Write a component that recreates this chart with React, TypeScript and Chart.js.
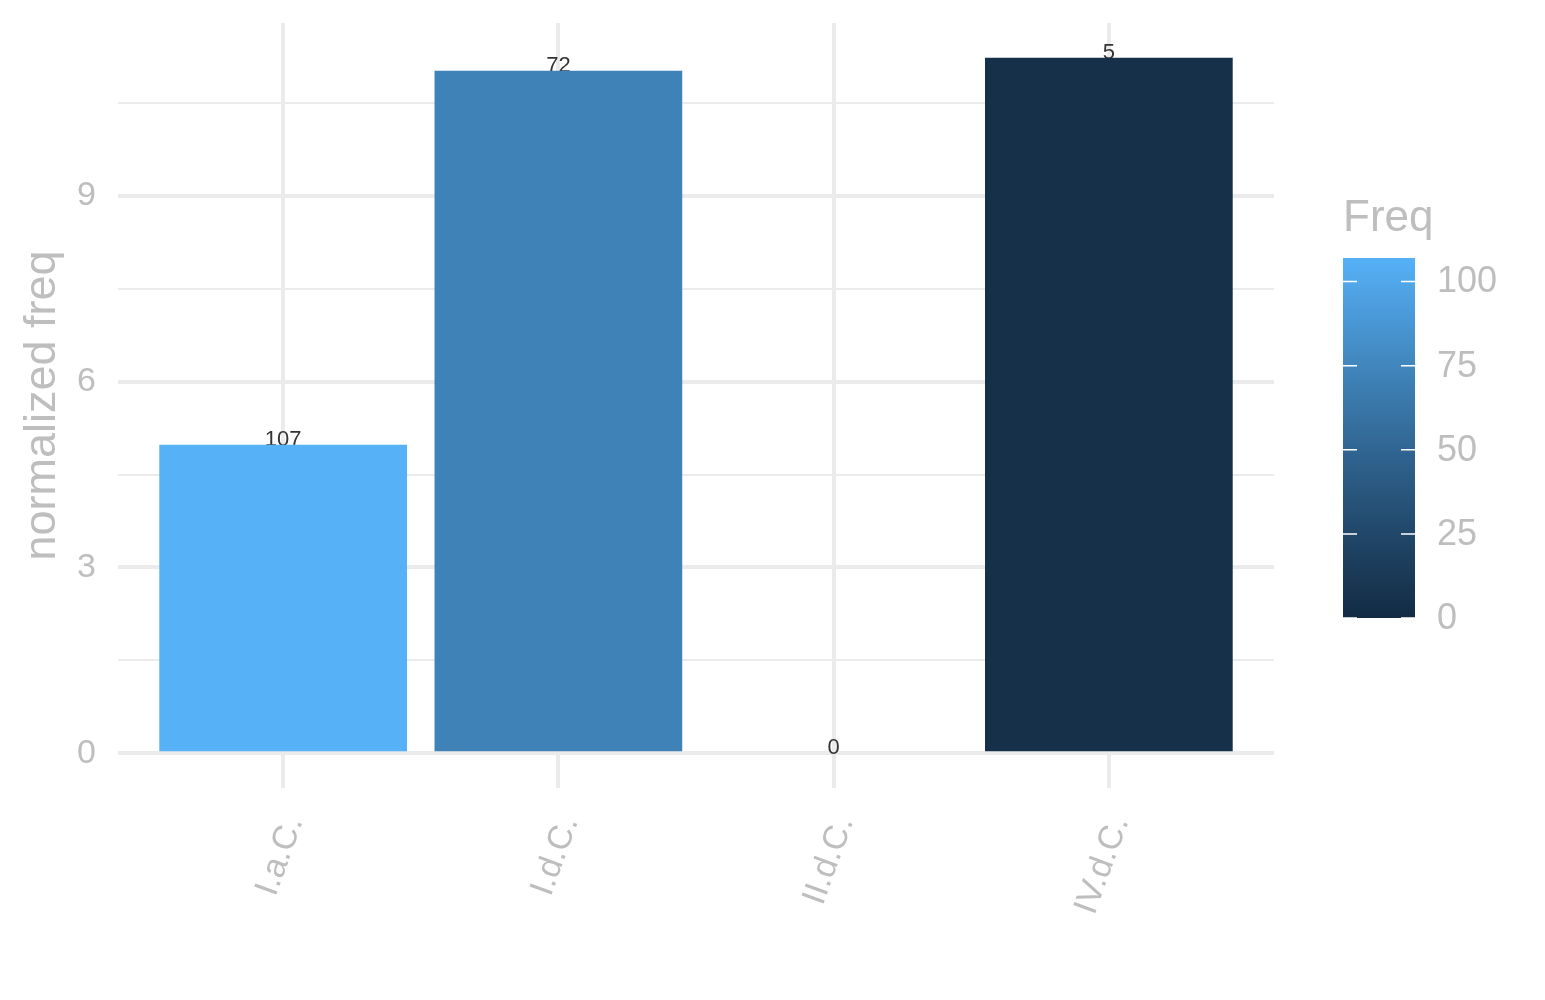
import { useEffect, useRef } from 'react';
import Chart from 'chart.js/auto';

// data
const categories = ['I.a.C.', 'I.d.C.', 'II.d.C.', 'IV.d.C.'];
const normalizedFreq = [4.98, 11.02, 0, 11.23];
const freq = [107, 72, 0, 5];

// axis ticks
const yMajorTicks = [0, 3, 6, 9];
const yMinorTicks = [1.5, 4.5, 7.5, 10.5];
const xTicks = [1, 2, 3, 4];
const legendTicks = [0, 25, 50, 75, 100];

// ggplot's default continuous fill scale
const LOW_COLOR = '#132B43';
const HIGH_COLOR = '#56B1F7';

const FONT = '"Liberation Sans", Arial, sans-serif';
const GREY_TEXT = '#BEBEBE';
const GRID = '#EBEBEB';

// --- colour helpers (Lab interpolation like scales::seq_gradient_pal) ---
const toLinear = (c: number) => {
  const v = c / 255;
  return v <= 0.04045 ? v / 12.92 : Math.pow((v + 0.055) / 1.055, 2.4);
};
const fromLinear = (c: number) => {
  const v = c <= 0.0031308 ? 12.92 * c : 1.055 * Math.pow(c, 1 / 2.4) - 0.055;
  return Math.round(Math.min(1, Math.max(0, v)) * 255);
};
const Xn = 0.95047, Yn = 1, Zn = 1.08883;
const EPS = 216 / 24389, KAPPA = 24389 / 27;

const hexToLab = (hex: string) => {
  const r = toLinear(parseInt(hex.slice(1, 3), 16));
  const g = toLinear(parseInt(hex.slice(3, 5), 16));
  const b = toLinear(parseInt(hex.slice(5, 7), 16));
  const X = 0.4124564 * r + 0.3575761 * g + 0.1804375 * b;
  const Y = 0.2126729 * r + 0.7151522 * g + 0.072175 * b;
  const Z = 0.0193339 * r + 0.119192 * g + 0.9503041 * b;
  const f = (t: number) => (t > EPS ? Math.cbrt(t) : (KAPPA * t + 16) / 116);
  const fx = f(X / Xn), fy = f(Y / Yn), fz = f(Z / Zn);
  return [116 * fy - 16, 500 * (fx - fy), 200 * (fy - fz)];
};

const labToRgb = (L: number, a: number, bb: number) => {
  const fy = (L + 16) / 116;
  const fx = fy + a / 500;
  const fz = fy - bb / 200;
  const finv = (t: number) => (t * t * t > EPS ? t * t * t : (116 * t - 16) / KAPPA);
  const X = Xn * finv(fx), Y = Yn * finv(fy), Z = Zn * finv(fz);
  const r = 3.2404542 * X - 1.5371385 * Y - 0.4985314 * Z;
  const g = -0.969266 * X + 1.8760108 * Y + 0.041556 * Z;
  const b = 0.0556434 * X - 0.2040259 * Y + 1.0572252 * Z;
  return `rgb(${fromLinear(r)}, ${fromLinear(g)}, ${fromLinear(b)})`;
};

const lowLab = hexToLab(LOW_COLOR);
const highLab = hexToLab(HIGH_COLOR);
const freqMin = Math.min(...freq);
const freqMax = Math.max(...freq);

const fillFor = (v: number) => {
  const t = (v - freqMin) / (freqMax - freqMin);
  return labToRgb(
    lowLab[0] + (highLab[0] - lowLab[0]) * t,
    lowLab[1] + (highLab[1] - lowLab[1]) * t,
    lowLab[2] + (highLab[2] - lowLab[2]) * t,
  );
};

// ggplot-like 5% expansion of the y range
const yMax = Math.max(...normalizedFreq);
const yPad = yMax * 0.05;

// value labels on top of the bars (drawn under the bars, like the reference)
const valueLabels = {
  id: 'valueLabels',
  beforeDatasetsDraw(chart: any) {
    const { ctx, scales } = chart;
    ctx.save();
    ctx.fillStyle = '#333333';
    ctx.font = `22px ${FONT}`;
    ctx.textAlign = 'center';
    ctx.textBaseline = 'alphabetic';
    categories.forEach((_, i) => {
      const x = scales.x.getPixelForValue(xTicks[i]);
      const y = scales.y.getPixelForValue(normalizedFreq[i]);
      ctx.fillText(String(freq[i]), x, y + 1);
    });
    ctx.restore();
  },
};

// colour bar legend on the right
const colorBar = {
  id: 'colorBar',
  afterDraw(chart: any) {
    const { ctx } = chart;
    const left = 1343;
    const top = 258;
    const width = 72;
    const height = 360;
    const bottom = top + height;

    ctx.save();
    ctx.fillStyle = GREY_TEXT;
    ctx.font = `44px ${FONT}`;
    ctx.textAlign = 'left';
    ctx.textBaseline = 'alphabetic';
    ctx.fillText('Freq', left, 231);

    const grad = ctx.createLinearGradient(0, bottom, 0, top);
    for (let k = 0; k <= 20; k++) {
      grad.addColorStop(k / 20, fillFor(freqMin + (k / 20) * (freqMax - freqMin)));
    }
    ctx.fillStyle = grad;
    ctx.fillRect(left, top, width, height);

    ctx.strokeStyle = '#FFFFFF';
    ctx.lineWidth = 1.5;
    ctx.font = `36px ${FONT}`;
    ctx.fillStyle = GREY_TEXT;
    ctx.textBaseline = 'middle';
    legendTicks.forEach((v) => {
      const y = bottom - ((v - freqMin) / (freqMax - freqMin)) * height;
      ctx.beginPath();
      ctx.moveTo(left, y);
      ctx.lineTo(left + 14, y);
      ctx.moveTo(left + width - 14, y);
      ctx.lineTo(left + width, y);
      ctx.stroke();
      ctx.fillText(String(v), left + width + 22, y + 1);
    });
    ctx.restore();
  },
};

const App = () => {
  const chartRef = useRef<HTMLCanvasElement>(null);
  const chartInstance = useRef<Chart | null>(null);

  useEffect(() => {
    if (!chartRef.current) return;
    if (chartInstance.current) chartInstance.current.destroy();

    chartInstance.current = new Chart(chartRef.current, {
      type: 'bar',
      data: {
        datasets: [
          {
            data: categories.map((_, i) => ({ x: xTicks[i], y: normalizedFreq[i] })),
            backgroundColor: freq.map(fillFor),
            borderWidth: 0,
            barPercentage: 0.9,
            categoryPercentage: 1,
          },
        ],
      },
      options: {
        animation: false,
        responsive: true,
        maintainAspectRatio: false,
        layout: { padding: { top: 23, right: 271, left: 0, bottom: 0 } },
        plugins: {
          legend: { display: false },
          tooltip: { enabled: false },
        },
        scales: {
          x: {
            type: 'linear',
            min: 0.4,
            max: 4.6,
            offset: false,
            afterBuildTicks: (scale: any) => {
              scale.ticks = xTicks.map((v) => ({ value: v }));
            },
            afterFit: (scale: any) => {
              scale.height = 212;
              scale.paddingLeft = 0;
              scale.paddingRight = 0;
            },
            ticks: {
              autoSkip: false,
              minRotation: 70,
              maxRotation: 70,
              padding: 23,
              labelOffset: 11,
              color: GREY_TEXT,
              font: { size: 34, family: FONT },
              callback: (value: any) => categories[Number(value) - 1] ?? '',
            },
            grid: { color: GRID, lineWidth: 4, drawTicks: false, offset: false },
            border: { display: false },
          },
          y: {
            type: 'linear',
            min: -yPad,
            max: yMax + yPad,
            afterBuildTicks: (scale: any) => {
              scale.ticks = [...yMajorTicks, ...yMinorTicks]
                .sort((a, b) => a - b)
                .map((v) => ({ value: v }));
            },
            afterFit: (scale: any) => {
              scale.width = 118;
              scale.paddingTop = 0;
              scale.paddingBottom = 0;
            },
            ticks: {
              padding: 22,
              color: GREY_TEXT,
              font: { size: 34, family: FONT },
              callback: (value: any) => (yMajorTicks.includes(Number(value)) ? String(value) : ''),
            },
            grid: {
              color: GRID,
              drawTicks: false,
              lineWidth: (c: any) => (yMajorTicks.includes(c.tick?.value) ? 4 : 2),
            },
            border: { display: false },
            title: {
              display: true,
              text: 'normalized freq',
              color: GREY_TEXT,
              font: { size: 45, family: FONT },
              padding: { top: 16, bottom: 0 },
            },
          },
        },
      },
      plugins: [valueLabels, colorBar],
    });

    return () => {
      if (chartInstance.current) {
        chartInstance.current.destroy();
        chartInstance.current = null;
      }
    };
  }, []);

  return (
    <div style={{ position: 'fixed', left: 0, top: 0, width: 1545, height: 1000, background: '#ffffff' }}>
      <canvas ref={chartRef} />
    </div>
  );
};

export default App;
